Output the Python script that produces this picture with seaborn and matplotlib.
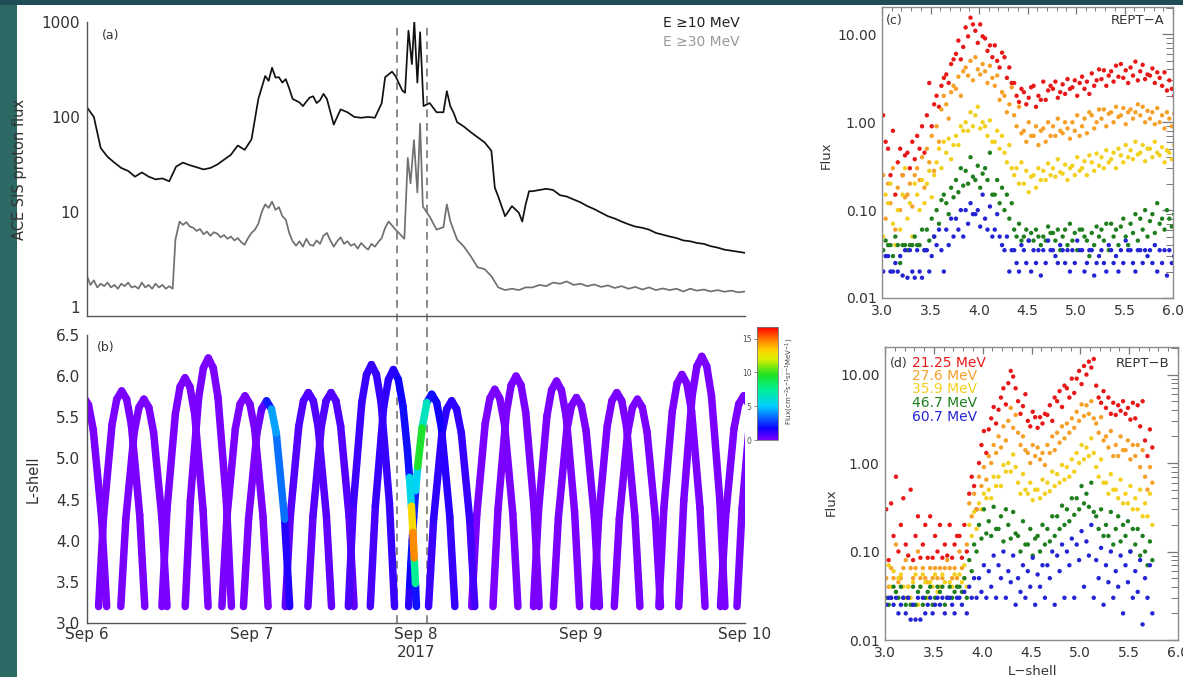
import numpy as np
import pandas as pd
import matplotlib
matplotlib.use("Agg")
import matplotlib.pyplot as plt
import seaborn as sns
from matplotlib.collections import LineCollection
from matplotlib.patches import Rectangle
from matplotlib.colors import Normalize, LinearSegmentedColormap
from matplotlib.cm import ScalarMappable
from matplotlib.ticker import FixedLocator, FixedFormatter, NullFormatter, LogLocator, MultipleLocator

# ---------------- Panel (a): ACE SIS proton flux (hours since Sep 6 00:00) ----------------
HOURS_10 = [0, 1, 2, 3, 4, 5, 6, 7, 8, 9, 10, 11, 12, 13, 14, 15, 16, 17, 18, 19, 20, 21, 22, 23,
            24, 25, 26, 26.5, 27, 27.5, 28, 28.5, 29, 29.5, 30, 31, 31.5, 32, 32.5, 33, 33.5, 34, 34.5, 35, 36,
            36.5, 37, 38, 39, 40, 41, 42, 43, 43.5,
            44.5, 45, 46, 46.4, 46.9, 47.4, 47.75, 48.2, 48.6, 49.1, 50, 51, 52, 52.5, 53, 53.5,
            54, 55, 56, 57, 58, 59, 59.5, 60, 61, 62, 63, 63.5, 64, 64.5, 65, 66, 67, 68, 69, 70,
            71, 72, 73, 74, 75, 76, 77, 78, 79, 80, 81, 82, 83, 84, 85, 86, 87, 88, 89, 90, 91, 92,
            93, 94, 95, 96]
FLUX_10 = [126, 100, 47, 38, 33, 29, 27, 23.5, 26, 23.5, 22, 22.5, 21, 30, 33, 31, 29.5, 28, 29,
           31.5, 35.5, 40, 50, 45, 58, 155, 270, 240, 330, 260, 262, 230, 250, 200, 155, 142, 130, 145,
           160, 165, 140, 150, 175, 155, 83, 100,
           120, 112, 100, 98, 100, 98, 140, 262, 300, 270, 190, 180, 810, 360, 1010, 230, 780, 130,
           140, 112, 112, 187, 130, 110, 88, 79, 69, 61, 54, 44, 18, 14.5, 9.0, 11.5, 9.8, 7.9, 12,
           16.5, 16.5, 17, 17.5, 17, 15, 14.5, 13.5, 12.6, 11.5, 10.7, 9.8, 9.0, 8.5, 7.9, 7.4, 7.0,
           6.8, 6.5, 6.0, 5.75, 5.5, 5.3, 5.0, 4.9, 4.7, 4.6, 4.35, 4.2, 4.0, 3.9, 3.8, 3.7]
HOURS_30 = [0, 0.5, 1, 1.5, 2, 2.5, 3, 3.5, 4, 4.5, 5, 5.5, 6, 6.5, 7, 7.5, 8, 8.5, 9, 9.5, 10, 10.5,
            11, 11.5, 12, 12.5, 12.9, 13.5, 14, 14.5, 15, 15.5, 16, 16.5, 17, 17.5, 18, 18.5, 19,
            19.5, 20, 20.5, 21, 21.5, 22, 22.5, 23, 23.5, 24, 24.5, 25, 25.5, 26, 26.5, 27, 27.5,
            28, 28.5, 29, 29.5, 30, 30.5, 31, 31.5, 32, 32.5, 33, 33.5, 34, 34.5, 35, 35.5, 36,
            36.5, 37, 37.5, 38, 38.5, 39, 39.5, 40, 40.5, 41, 41.5, 42, 42.5, 43, 43.5, 44, 44.5,
            45, 45.5, 46, 46.3, 46.8, 47.2, 47.7, 48.2, 48.6, 49, 50, 51, 52, 52.5, 53, 54, 55, 56,
            57, 58, 59, 60, 61, 62, 63, 64, 65, 66, 67, 68, 69, 70, 71, 72, 73, 74, 75, 76, 77, 78,
            79, 80, 81, 82, 83, 84, 85, 86, 87, 88, 89, 90, 91, 92, 93, 94, 95, 96]
FLUX_30 = [2.1, 1.7, 1.9, 1.6, 1.75, 1.65, 1.8, 1.6, 1.7, 1.55, 1.75, 1.65, 1.8, 1.6, 1.65, 1.55,
           1.8, 1.6, 1.7, 1.55, 1.75, 1.6, 1.7, 1.55, 1.65, 1.55, 5.1, 7.9, 7.3, 7.8, 7.0, 6.8,
           6.3, 6.6, 5.8, 6.2, 5.6, 6.1, 5.9, 5.4, 5.7, 5.2, 5.5, 5.0, 5.3, 4.8, 4.5, 5.3, 6.0,
           6.5, 7.5, 10, 12, 11, 12.8, 10.5, 11.2, 9, 8.3, 6, 4.9, 4.4, 4.9, 4.3, 5.2, 4.5, 4.4,
           5.0, 4.6, 5.6, 6.0, 5.0, 4.3, 4.9, 5.4, 4.6, 4.9, 4.4, 4.6, 4.1, 4.7, 4.3, 4.0, 4.6,
           4.3, 4.8, 5.3, 6.8, 7.9, 7.2, 6.5, 6.0, 5.5, 5.2, 37, 20, 57, 16, 85, 11.4, 8.9, 6.5,
           6.9, 12, 8, 5.1, 4.3, 3.4, 2.6, 2.5, 2.1, 1.6, 1.5, 1.55, 1.5, 1.6, 1.6, 1.7, 1.65,
           1.8, 1.75, 1.85, 1.7, 1.75, 1.65, 1.72, 1.62, 1.68, 1.58, 1.65, 1.55, 1.62, 1.52, 1.6,
           1.5, 1.56, 1.5, 1.55, 1.45, 1.55, 1.48, 1.52, 1.45, 1.5, 1.44, 1.48, 1.42, 1.45]
EVENT_HOURS = [45.2, 49.6]
DAY_TICKS = [0, 24, 48, 72, 96]
DAY_LABELS = ['Sep 6', 'Sep 7', 'Sep 8\n2017', 'Sep 9', 'Sep 10']

# ---------------- Panel (b): Van Allen Probes L-shell passes (hours, L, flux) ----------------
ORBIT_A_HOURS = [
    [-3.87, -3.13, -1.91, -1.22, -0.5, 0.22, 0.91, 2.13, 2.87],
    [4.93, 5.67, 6.89, 7.58, 8.3, 9.02, 9.71, 10.93, 11.67],
    [14.33, 15.07, 16.29, 16.98, 17.7, 18.42, 19.11, 20.33, 21.07],
    [22.83, 23.57, 24.79, 25.48, 26.2, 26.92, 27.61, 28.83, 29.57],
    [32.23, 32.97, 34.19, 34.88, 35.6, 36.32, 37.01, 38.23, 38.97],
    [41.33, 42.07, 43.29, 43.98, 44.7, 45.42, 46.11, 46.75, 47.05, 47.33, 47.55, 47.74, 47.92, 48.07],
    [49.83, 50.57, 51.79, 52.48, 53.2, 53.92, 54.61, 55.83, 56.57],
    [59.23, 59.97, 61.19, 61.88, 62.6, 63.32, 64.01, 65.23, 65.97],
    [68.03, 68.77, 69.99, 70.68, 71.4, 72.12, 72.81, 74.03, 74.77],
    [76.93, 77.67, 78.89, 79.58, 80.3, 81.02, 81.71, 82.93, 83.67],
    [86.33, 87.07, 88.29, 88.98, 89.7, 90.42, 91.11, 92.33, 93.07],
    [94.83, 95.57, 96.79, 97.48, 98.2],
]
ORBIT_A_LSHELL = [
    [3.2, 4.28, 5.35, 5.65, 5.75, 5.65, 5.35, 4.28, 3.2],
    [3.2, 4.27, 5.32, 5.62, 5.72, 5.62, 5.32, 4.27, 3.2],
    [3.2, 4.48, 5.74, 6.10, 6.22, 6.10, 5.74, 4.48, 3.2],
    [3.2, 4.26, 5.31, 5.60, 5.70, 5.60, 5.31, 4.26, 3.2],
    [3.2, 4.30, 5.39, 5.70, 5.80, 5.70, 5.39, 4.30, 3.2],
    [3.2, 4.42, 5.63, 5.96, 6.08, 5.96, 5.63, 5.10, 4.77, 4.42, 4.10, 3.79, 3.48, 3.2],
    [3.2, 4.26, 5.31, 5.60, 5.70, 5.60, 5.31, 4.26, 3.2],
    [3.2, 4.39, 5.56, 5.89, 6.00, 5.89, 5.56, 4.39, 3.2],
    [3.2, 4.28, 5.34, 5.64, 5.74, 5.64, 5.34, 4.28, 3.2],
    [3.2, 4.27, 5.32, 5.62, 5.72, 5.62, 5.32, 4.27, 3.2],
    [3.2, 4.49, 5.76, 6.12, 6.24, 6.12, 5.76, 4.49, 3.2],
    [3.2, 4.39, 5.56, 5.89, 6.0],
]
ORBIT_A_FLUX = [
    [0, 0, 0, 0, 0, 0, 0, 0, 0],
    [0, 0, 0, 0, 0, 0, 0, 0, 0],
    [0, 0, 0, 0, 0, 0, 0, 0, 0],
    [0, 0, 0, 0.3, 0.8, 3.5, 5, 2, 0.8],
    [0.3, 0.6, 0.7, 0.7, 0.7, 0.7, 0.7, 0.6, 0.3],
    [0.6, 1.0, 1.2, 1.2, 1.3, 1.5, 2, 1.8, 2, 9, 17, 12, 3, 1],
    [0.8, 1.2, 1.2, 1.2, 1.2, 1.2, 1.1, 1.0, 0.8],
    [0, 0, 0, 0, 0, 0, 0, 0, 0],
    [0, 0, 0, 0, 0, 0, 0, 0, 0],
    [0, 0, 0, 0, 0, 0, 0, 0, 0],
    [0, 0, 0, 0, 0, 0, 0, 0, 0],
    [0, 0, 0, 0, 0],
]
ORBIT_B_HOURS = [
    [1.69, 2.43, 3.65, 4.34, 5.06, 5.78, 6.47, 7.69, 8.43],
    [10.93, 11.67, 12.89, 13.58, 14.3, 15.02, 15.71, 16.93, 17.67],
    [19.68, 20.42, 21.64, 22.33, 23.05, 23.77, 24.46, 25.68, 26.42],
    [28.93, 29.67, 30.89, 31.58, 32.3, 33.02, 33.71, 34.93, 35.67],
    [38.13, 38.87, 40.09, 40.78, 41.5, 42.22, 42.91, 44.13, 44.87],
    [46.93, 47.08, 47.26, 47.45, 47.67, 47.95, 48.25, 48.89, 49.58, 50.3, 51.02, 51.71, 52.93, 53.67],
    [56.13, 56.87, 58.09, 58.78, 59.5, 60.22, 60.91, 62.13, 62.87],
    [65.13, 65.87, 67.09, 67.78, 68.5, 69.22, 69.91, 71.13, 71.87],
    [73.93, 74.67, 75.89, 76.58, 77.3, 78.02, 78.71, 79.93, 80.67],
    [83.43, 84.17, 85.39, 86.08, 86.8, 87.52, 88.21, 89.43, 90.17],
    [92.43, 93.17, 94.39, 95.08, 95.8, 96.52],
]
ORBIT_B_LSHELL = [
    [3.2, 4.31, 5.41, 5.72, 5.82, 5.72, 5.41, 4.31, 3.2],
    [3.2, 4.38, 5.54, 5.87, 5.98, 5.87, 5.54, 4.38, 3.2],
    [3.2, 4.29, 5.36, 5.66, 5.76, 5.66, 5.36, 4.29, 3.2],
    [3.2, 4.30, 5.39, 5.70, 5.80, 5.70, 5.39, 4.30, 3.2],
    [3.2, 4.45, 5.68, 6.02, 6.14, 6.02, 5.68, 4.45, 3.2],
    [3.2, 3.45, 3.73, 4.0, 4.29, 4.61, 4.90, 5.37, 5.68, 5.78, 5.68, 5.37, 4.29, 3.2],
    [3.2, 4.32, 5.42, 5.73, 5.84, 5.73, 5.42, 4.32, 3.2],
    [3.2, 4.36, 5.51, 5.83, 5.94, 5.83, 5.51, 4.36, 3.2],
    [3.2, 4.30, 5.39, 5.70, 5.80, 5.70, 5.39, 4.30, 3.2],
    [3.2, 4.40, 5.57, 5.91, 6.02, 5.91, 5.57, 4.40, 3.2],
    [3.2, 4.29, 5.36, 5.66, 5.76, 5.66],
]
ORBIT_B_FLUX = [
    [0, 0, 0, 0, 0, 0, 0, 0, 0],
    [0, 0, 0, 0, 0, 0, 0, 0, 0],
    [0, 0, 0, 0, 0, 0, 0, 0, 0],
    [0.3, 0.6, 0.7, 0.7, 0.7, 0.7, 0.7, 0.6, 0.3],
    [0.6, 0.9, 1.1, 1.1, 1.1, 1.1, 1.1, 1.1, 1.0],
    [1, 1.5, 2, 2, 2, 2.5, 8, 11, 2, 1.8, 1.8, 1.5, 1.2, 1],
    [0, 0, 0, 0, 0, 0, 0, 0, 0],
    [0, 0, 0, 0, 0, 0, 0, 0, 0],
    [0, 0, 0, 0, 0, 0, 0, 0, 0],
    [0, 0, 0, 0, 0, 0, 0, 0, 0],
    [0, 0, 0, 0, 0, 0],
]
CBAR_MAX = 16.7
CBAR_TICKS = [0, 5, 10, 15]
CMAP_STOPS = [0.0, 0.1, 0.3, 0.45, 0.58, 0.72, 0.8, 0.9, 1.0]
CMAP_COLORS = ['#7a00ff', '#1000ff', '#00d0ff', '#00f090', '#20e020', '#e0f000', '#ffd000', '#ff7000', '#ff0000']

# ---------------- Panels (c) and (d): REPT flux vs L-shell ----------------
CHANNELS = ['21.25 MeV', '27.6 MeV', '35.9 MeV', '46.7 MeV', '60.7 MeV']
CH_COLORS = ['#e81818', '#f5a028', '#f3d01e', '#1f7f1f', '#2424d4']
L_BINS_C = [3.0, 3.1, 3.2, 3.3, 3.4, 3.5, 3.6, 3.7, 3.8, 3.9, 4.0, 4.1, 4.2, 4.3, 4.4, 4.5,
            4.6, 4.7, 4.8, 4.9, 5.0, 5.1, 5.2, 5.3, 5.4, 5.5, 5.6, 5.7, 5.8, 5.9, 6.0]
L_BINS_D = [3.0, 3.1, 3.2, 3.3, 3.4, 3.5, 3.6, 3.7, 3.8, 3.9, 4.0, 4.1, 4.2, 4.3, 4.4, 4.5,
            4.6, 4.7, 4.8, 4.9, 5.0, 5.1, 5.2, 5.3, 5.4, 5.5, 5.6, 5.7]
C_RED = [[0.9, 0.35, 1.2, 0.6], [0.5, 0.25, 0.8, 0.15], [0.35, 0.5, 0.25, 0.42], [0.45, 0.3, 0.6, 0.38],
         [0.7, 0.5, 0.9, 0.45], [1.2, 2.8, 0.9, 1.6], [2.0, 1.5, 2.6, 3.2], [3.5, 2.8, 4.6, 5.2],
         [6.0, 8.5, 5.2, 7.2], [12.0, 9.5, 15.5, 13.0], [11.0, 8.0, 13.0, 9.5], [9.0, 6.5, 7.5, 5.5],
         [7.5, 5.0, 4.2, 6.2], [5.5, 3.2, 4.2, 2.8], [2.8, 2.0, 1.7, 2.4], [2.2, 1.6, 1.9, 2.5],
         [2.6, 1.5, 2.0, 1.8], [2.9, 1.8, 2.3, 2.6], [2.4, 2.9, 1.9, 2.2], [2.7, 2.1, 3.1, 2.4],
         [2.5, 3.0, 2.0, 2.8], [3.3, 2.4, 2.9, 2.1], [3.6, 2.6, 3.0, 4.0], [3.1, 3.9, 2.6, 3.4],
         [3.8, 2.9, 4.4, 3.3], [4.6, 3.2, 3.9, 2.8], [4.2, 3.4, 4.9, 3.0], [3.8, 4.5, 3.1, 3.5],
         [3.4, 4.1, 2.8, 3.7], [3.2, 2.6, 3.7, 2.3], [3.0, 2.4, 2.0, 3.4]]
C_ORANGE = [[0.35, 0.15, 0.25, 0.08], [0.2, 0.12, 0.3, 0.06], [0.18, 0.1, 0.25, 0.14], [0.15, 0.2, 0.11, 0.25],
            [0.3, 0.22, 0.4, 0.18], [0.5, 0.35, 0.7, 0.28], [0.9, 0.6, 1.4, 2.0], [1.6, 1.1, 2.2, 2.6],
            [2.4, 3.3, 2.0, 3.8], [4.2, 3.4, 5.0, 3.0], [5.5, 4.0, 3.5, 4.6], [3.8, 2.8, 4.4, 3.2],
            [2.6, 3.4, 1.8, 2.2], [2.0, 1.3, 1.6, 2.5], [1.2, 0.9, 1.5, 0.75], [0.8, 0.6, 1.0, 0.7],
            [0.7, 0.9, 0.55, 0.8], [0.85, 0.6, 1.0, 0.7], [0.9, 0.7, 1.1, 0.8], [0.75, 1.0, 0.85, 0.65],
            [1.0, 0.8, 1.2, 0.7], [0.9, 1.1, 0.75, 1.3], [1.2, 0.85, 1.0, 1.4], [1.1, 1.4, 0.9, 1.25],
            [1.3, 1.0, 1.5, 1.15], [1.2, 1.45, 0.95, 1.3], [1.4, 1.1, 1.3, 1.6], [1.2, 1.5, 1.0, 1.35],
            [1.1, 1.3, 0.95, 1.45], [1.0, 1.2, 0.85, 1.3], [1.1, 0.9, 1.25, 1.0]]
C_YELLOW = [[0.25, 0.1, 0.05, 0.15], [0.12, 0.2, 0.07, 0.04], [0.1, 0.06, 0.15, 0.3], [0.08, 0.12, 0.05, 0.2],
            [0.15, 0.1, 0.22, 0.12], [0.2, 0.28, 0.14, 0.25], [0.35, 0.5, 0.3, 0.6], [0.45, 0.65, 0.38, 0.55],
            [0.7, 0.55, 0.9, 0.8], [1.0, 0.8, 1.3, 0.9], [1.2, 1.5, 0.85, 1.0], [0.9, 0.7, 1.05, 0.6],
            [0.6, 0.8, 0.5, 0.7], [0.45, 0.35, 0.55, 0.3], [0.25, 0.3, 0.2, 0.35], [0.2, 0.28, 0.16, 0.24],
            [0.25, 0.18, 0.3, 0.22], [0.28, 0.22, 0.34, 0.25], [0.3, 0.24, 0.38, 0.27], [0.26, 0.33, 0.22, 0.3],
            [0.32, 0.25, 0.4, 0.28], [0.3, 0.36, 0.25, 0.42], [0.35, 0.28, 0.44, 0.32], [0.4, 0.3, 0.48, 0.35],
            [0.38, 0.45, 0.3, 0.5], [0.42, 0.35, 0.55, 0.4], [0.48, 0.38, 0.6, 0.43], [0.45, 0.55, 0.36, 0.5],
            [0.5, 0.4, 0.6, 0.45], [0.42, 0.52, 0.35, 0.48], [0.45, 0.38, 0.55, 0.4]]
C_GREEN = [[0.04, 0.04, 0.035, 0.045], [0.04, 0.04, 0.03, 0.05], [0.04, 0.025, 0.04, 0.04], [0.035, 0.04, 0.04, 0.05],
           [0.04, 0.04, 0.06, 0.035], [0.06, 0.045, 0.08, 0.05], [0.1, 0.07, 0.13, 0.15], [0.12, 0.09, 0.18, 0.14],
           [0.22, 0.16, 0.3, 0.19], [0.28, 0.2, 0.4, 0.24], [0.22, 0.32, 0.18, 0.26], [0.3, 0.22, 0.45, 0.15],
           [0.15, 0.22, 0.12, 0.18], [0.1, 0.15, 0.08, 0.12], [0.06, 0.05, 0.07, 0.045], [0.05, 0.06, 0.045, 0.055],
           [0.045, 0.06, 0.05, 0.04], [0.05, 0.045, 0.065, 0.055], [0.055, 0.045, 0.06, 0.035], [0.05, 0.06, 0.04, 0.07],
           [0.045, 0.055, 0.035, 0.06], [0.06, 0.05, 0.045, 0.03], [0.055, 0.04, 0.065, 0.05], [0.06, 0.045, 0.07, 0.035],
           [0.07, 0.05, 0.06, 0.04], [0.065, 0.08, 0.05, 0.04], [0.07, 0.055, 0.09, 0.045], [0.08, 0.06, 0.1, 0.05],
           [0.075, 0.09, 0.055, 0.12], [0.07, 0.08, 0.06, 0.1], [0.08, 0.065, 0.09, 0.07]]
C_BLUE = [[0.03, 0.025, 0.02, 0.03], [0.03, 0.02, 0.02, 0.025], [0.02, 0.03, 0.018, 0.035], [0.017, 0.035, 0.02, 0.017],
          [0.035, 0.02, 0.017, 0.035], [0.035, 0.02, 0.03, 0.05], [0.04, 0.06, 0.035, 0.02], [0.06, 0.04, 0.08, 0.05],
          [0.08, 0.06, 0.1, 0.05], [0.1, 0.07, 0.12, 0.09], [0.09, 0.1, 0.065, 0.15], [0.08, 0.06, 0.11, 0.05],
          [0.06, 0.09, 0.05, 0.04], [0.035, 0.05, 0.02, 0.035], [0.035, 0.025, 0.02, 0.04], [0.035, 0.025, 0.045, 0.02],
          [0.035, 0.025, 0.035, 0.018], [0.035, 0.025, 0.045, 0.035], [0.035, 0.03, 0.025, 0.04], [0.035, 0.025, 0.035, 0.02],
          [0.035, 0.025, 0.045, 0.035], [0.035, 0.02, 0.025, 0.035], [0.035, 0.018, 0.025, 0.03], [0.035, 0.025, 0.02, 0.04],
          [0.035, 0.025, 0.03, 0.02], [0.035, 0.025, 0.045, 0.035], [0.035, 0.025, 0.02, 0.035], [0.035, 0.025, 0.035, 0.03],
          [0.035, 0.025, 0.04, 0.02], [0.035, 0.025, 0.035, 0.018], [0.035, 0.025, 0.03, 0.035]]
D_RED = [[0.5, 0.12, 0.3, 0.08], [0.35, 0.15, 0.7, 0.1], [0.2, 0.4, 0.12, 0.09], [0.5, 0.08, 0.15, 0.25],
         [0.085, 0.12, 0.2, 0.085], [0.25, 0.085, 0.15, 0.1], [0.2, 0.085, 0.12, 0.09], [0.2, 0.085, 0.12, 0.15],
         [0.15, 0.085, 0.2, 0.1], [0.45, 0.7, 0.55, 0.3], [1.0, 1.6, 2.3, 1.3], [2.4, 3.2, 4.3, 2.8],
         [4.0, 5.5, 7.0, 4.6], [8.0, 11.0, 9.5, 7.0], [5.0, 3.6, 4.4, 6.0], [3.0, 2.6, 3.8, 3.3],
         [2.5, 3.3, 2.8, 3.6], [3.5, 4.5, 3.0, 5.5], [5.0, 6.5, 4.3, 7.5], [7.0, 5.5, 9.0, 6.2],
         [9.0, 11.0, 7.8, 12.5], [10.0, 14.0, 12.0, 15.0], [7.5, 5.5, 4.8, 6.5], [4.2, 5.5, 3.6, 4.8],
         [3.5, 4.5, 3.9, 5.0], [3.6, 4.2, 3.1, 4.8], [3.2, 4.5, 2.6, 5.0], [1.8, 1.2, 2.4, 1.5]]
D_ORANGE = [[0.1, 0.065, 0.05, 0.04], [0.065, 0.05, 0.12, 0.045], [0.05, 0.065, 0.08, 0.04], [0.065, 0.05, 0.065, 0.1],
            [0.05, 0.065, 0.05, 0.045], [0.065, 0.05, 0.065, 0.05], [0.065, 0.05, 0.065, 0.08], [0.065, 0.05, 0.065, 0.05],
            [0.1, 0.065, 0.05, 0.12], [0.35, 0.25, 0.45, 0.3], [0.7, 0.55, 0.9, 0.65], [1.2, 1.0, 1.6, 1.3],
            [2.0, 1.5, 2.6, 1.8], [3.0, 4.2, 2.5, 3.5], [2.2, 1.6, 2.0, 1.4], [1.3, 1.0, 1.6, 1.2],
            [1.5, 1.1, 1.3, 0.95], [1.6, 1.3, 2.0, 1.4], [2.2, 1.7, 2.6, 1.9], [2.8, 2.2, 3.2, 2.5],
            [3.8, 3.0, 4.6, 3.4], [4.5, 3.6, 5.0, 3.2], [2.8, 2.2, 3.3, 1.8], [2.0, 1.5, 2.3, 1.2],
            [1.6, 1.2, 2.0, 1.4], [1.4, 1.8, 1.1, 1.6], [1.2, 1.6, 0.9, 1.4], [0.7, 0.5, 0.9, 0.6]]
D_YELLOW = [[0.04, 0.055, 0.03, 0.07], [0.04, 0.06, 0.035, 0.05], [0.055, 0.04, 0.03, 0.04], [0.03, 0.045, 0.055, 0.025],
            [0.04, 0.055, 0.045, 0.03], [0.045, 0.04, 0.055, 0.035], [0.04, 0.055, 0.045, 0.03], [0.045, 0.04, 0.055, 0.04],
            [0.055, 0.045, 0.07, 0.04], [0.2, 0.15, 0.28, 0.18], [0.35, 0.3, 0.45, 0.4], [0.5, 0.4, 0.7, 0.55],
            [0.7, 0.55, 0.95, 0.8], [1.0, 0.8, 1.25, 0.9], [0.6, 0.45, 0.75, 0.5], [0.45, 0.6, 0.38, 0.5],
            [0.5, 0.4, 0.65, 0.45], [0.6, 0.48, 0.8, 0.55], [0.75, 0.6, 0.95, 0.65], [0.9, 0.7, 1.1, 0.8],
            [1.3, 1.0, 1.6, 1.1], [1.5, 1.2, 1.9, 1.3], [0.9, 0.7, 1.1, 0.6], [0.6, 0.45, 0.75, 0.5],
            [0.5, 0.4, 0.65, 0.35], [0.45, 0.35, 0.55, 0.3], [0.4, 0.3, 0.5, 0.25], [0.35, 0.25, 0.45, 0.2]]
D_GREEN = [[0.03, 0.04, 0.03, 0.025], [0.03, 0.04, 0.035, 0.03], [0.04, 0.03, 0.025, 0.03], [0.025, 0.04, 0.025, 0.035],
           [0.04, 0.025, 0.03, 0.035], [0.04, 0.025, 0.03, 0.04], [0.035, 0.04, 0.025, 0.03], [0.04, 0.03, 0.035, 0.04],
           [0.04, 0.035, 0.05, 0.03], [0.08, 0.06, 0.12, 0.1], [0.2, 0.14, 0.3, 0.16], [0.22, 0.15, 0.32, 0.18],
           [0.18, 0.25, 0.13, 0.3], [0.2, 0.14, 0.28, 0.16], [0.15, 0.1, 0.22, 0.12], [0.12, 0.18, 0.09, 0.14],
           [0.15, 0.1, 0.2, 0.12], [0.18, 0.13, 0.25, 0.15], [0.25, 0.18, 0.33, 0.2], [0.3, 0.22, 0.4, 0.26],
           [0.4, 0.3, 0.55, 0.35], [0.45, 0.32, 0.6, 0.28], [0.25, 0.18, 0.3, 0.15], [0.2, 0.15, 0.28, 0.12],
           [0.18, 0.25, 0.13, 0.2], [0.15, 0.22, 0.1, 0.18], [0.12, 0.18, 0.09, 0.15], [0.1, 0.07, 0.13, 0.08]]
D_BLUE = [[0.025, 0.03, 0.025, 0.03], [0.03, 0.025, 0.03, 0.02], [0.025, 0.03, 0.02, 0.03], [0.017, 0.025, 0.017, 0.03],
          [0.017, 0.03, 0.02, 0.025], [0.03, 0.02, 0.025, 0.03], [0.025, 0.03, 0.02, 0.03], [0.03, 0.025, 0.02, 0.03],
          [0.03, 0.025, 0.035, 0.02], [0.04, 0.03, 0.05, 0.03], [0.05, 0.035, 0.07, 0.03], [0.06, 0.04, 0.09, 0.03],
          [0.07, 0.05, 0.1, 0.03], [0.06, 0.045, 0.09, 0.025], [0.05, 0.035, 0.07, 0.03], [0.06, 0.04, 0.085, 0.025],
          [0.055, 0.04, 0.07, 0.03], [0.07, 0.05, 0.1, 0.025], [0.09, 0.06, 0.12, 0.03], [0.1, 0.07, 0.14, 0.03],
          [0.12, 0.08, 0.17, 0.04], [0.13, 0.09, 0.2, 0.03], [0.08, 0.05, 0.11, 0.025], [0.07, 0.045, 0.1, 0.03],
          [0.06, 0.04, 0.09, 0.02], [0.07, 0.045, 0.1, 0.03], [0.06, 0.035, 0.08, 0.015], [0.05, 0.03, 0.07, 0.02]]
BIN_OFFSETS = [-0.0375, -0.0125, 0.0125, 0.0375]

# ---------------- styling ----------------
sns.set_theme(style="white")
plt.rcParams['font.family'] = ['DejaVu Sans']
plt.rcParams['axes.linewidth'] = 1.0
TXT = '#333333'
SPINE = '#555555'

W, H = 1183, 677
fig = plt.figure(figsize=(W / 100, H / 100), dpi=100)
fig.patch.set_facecolor('#2c6864')
fig.add_artist(Rectangle((0, 1 - 5 / H), 1, 5 / H, transform=fig.transFigure,
                         facecolor='#1f4d56', edgecolor='none', zorder=-10))
fig.add_artist(Rectangle((17 / W, 0), 1 - 17 / W, 1 - 5 / H, transform=fig.transFigure,
                         facecolor='white', edgecolor='none', zorder=-9))


def fax(l, t, r, b):
    return fig.add_axes([l / W, 1 - b / H, (r - l) / W, (b - t) / H])


axa = fax(87, 22, 745, 316)
axb = fax(87, 335, 745, 623)
cax = fax(757, 327, 778, 440)
axc = fax(882, 7, 1173, 298)
axd = fax(885, 347, 1178, 640)
for ax in (axa, axb, axc, axd):
    ax.set_facecolor('none')

# ---- panel (a)
df_a = pd.DataFrame({
    'hour': HOURS_10 + HOURS_30,
    'flux': FLUX_10 + FLUX_30,
    'series': ['E ≥10 MeV'] * len(HOURS_10) + ['E ≥30 MeV'] * len(HOURS_30),
})
sns.lineplot(data=df_a, x='hour', y='flux', hue='series', estimator=None,
             palette={'E ≥10 MeV': '#111111', 'E ≥30 MeV': '#707070'},
             linewidth=1.25, legend=False, ax=axa)
axa.set_yscale('log')
axa.set_ylim(0.8, 1000)
axa.set_xlim(0, 96)
axa.yaxis.set_major_locator(FixedLocator([1, 10, 100, 1000]))
axa.yaxis.set_major_formatter(FixedFormatter(['1', '10', '100', '1000']))
axa.yaxis.set_minor_locator(LogLocator(base=10, subs=[2, 3, 4, 5, 6, 7, 8, 9]))
axa.yaxis.set_minor_formatter(NullFormatter())
axa.set_ylabel('ACE SIS proton flux', fontsize=10.5, color=TXT)
axa.yaxis.set_label_coords(-0.091, 0.5)
axa.set_xlabel('')

cmap_b = LinearSegmentedColormap.from_list('idl_rainbow', list(zip(CMAP_STOPS, CMAP_COLORS)))
norm = Normalize(0, CBAR_MAX)

for ax in (axa, axb):
    for s in ('top', 'right'):
        ax.spines[s].set_visible(False)
    for s in ('left', 'bottom'):
        ax.spines[s].set_color(SPINE)
        ax.spines[s].set_linewidth(1.0)
    ax.xaxis.set_major_locator(FixedLocator(DAY_TICKS))
    ax.xaxis.set_minor_locator(MultipleLocator(2.4))
    ax.tick_params(axis='both', which='both', direction='in', colors=SPINE, labelcolor=TXT,
                   labelsize=11, top=False, right=False)
    ax.tick_params(axis='y', which='major', length=14, width=1, pad=5)
    ax.tick_params(axis='y', which='minor', length=6.5, width=0.8)
    ax.tick_params(axis='x', which='major', length=9, width=1)
    ax.tick_params(axis='x', which='minor', length=5, width=0.8)
axa.set_xticklabels([])

for hx in EVENT_HOURS:
    axa.axvline(hx, ymin=-19 / 294, ymax=1, color='#8a8a8a', ls=(0, (4, 3)), lw=1.4, clip_on=False, zorder=1)
    axb.axvline(hx, color='#8a8a8a', ls=(0, (4, 3)), lw=1.4, zorder=1)

axa.text(0.023, 0.955, '(a)', transform=axa.transAxes, fontsize=9, color=TXT, va='center', ha='left')
axa.text(0.992, 0.997, 'E ≥10 MeV', transform=axa.transAxes, fontsize=10, color='#222222', va='center', ha='right')
axa.text(0.992, 0.932, 'E ≥30 MeV', transform=axa.transAxes, fontsize=10, color='#9a9a9a', va='center', ha='right')

# ---- panel (b)
segs, vals = [], []
for hrs_list, l_list, f_list in ((ORBIT_A_HOURS, ORBIT_A_LSHELL, ORBIT_A_FLUX),
                                 (ORBIT_B_HOURS, ORBIT_B_LSHELL, ORBIT_B_FLUX)):
    for hrs, ls, fx in zip(hrs_list, l_list, f_list):
        for i in range(len(hrs) - 1):
            segs.append([(hrs[i], ls[i]), (hrs[i + 1], ls[i + 1])])
            vals.append(0.5 * (fx[i] + fx[i + 1]))
order = np.argsort(vals, kind='stable')
lc = LineCollection([segs[i] for i in order], cmap=cmap_b, norm=norm, linewidths=5.4,
                    capstyle='round', joinstyle='round', zorder=2)
lc.set_array(np.array(vals)[order])
axb.add_collection(lc)
axb.set_xlim(0, 96)
axb.set_ylim(3.0, 6.5)
axb.set_yticks([3.0, 3.5, 4.0, 4.5, 5.0, 5.5, 6.0, 6.5])
axb.set_yticklabels(['3.0', '3.5', '4.0', '4.5', '5.0', '5.5', '6.0', '6.5'])
axb.yaxis.set_minor_locator(MultipleLocator(0.1))
axb.set_xticks(DAY_TICKS)
axb.set_xticklabels(DAY_LABELS)
axb.tick_params(axis='x', which='major', pad=3)
axb.set_ylabel('L-shell', fontsize=10.5, color=TXT)
axb.yaxis.set_label_coords(-0.071, 0.5)
axb.text(0.015, 0.955, '(b)', transform=axb.transAxes, fontsize=9, color=TXT, va='center', ha='left')

sm = ScalarMappable(norm=norm, cmap=cmap_b)
cb = fig.colorbar(sm, cax=cax)
cb.set_ticks(CBAR_TICKS)
cax.yaxis.set_ticks_position('left')
cax.tick_params(labelsize=5.5, length=2, width=0.5, colors='#555555', pad=2)
cb.outline.set_edgecolor('#777777')
cb.outline.set_linewidth(0.6)
cax.text(1.55, 0.52, 'Flux(cm$^{-2}$s$^{-1}$sr$^{-1}$MeV$^{-1}$)', transform=cax.transAxes,
         rotation=90, fontsize=5, color='#444444', va='center', ha='center')


# ---- panels (c) and (d)
def cloud(bins, rows_by_channel):
    recs = []
    for ch, rows in zip(CHANNELS, rows_by_channel):
        for L, row in zip(bins, rows):
            for off, v in zip(BIN_OFFSETS, row):
                recs.append((L + off, v, ch))
    return pd.DataFrame(recs, columns=['L', 'flux', 'channel'])


df_c = cloud(L_BINS_C, [C_RED, C_ORANGE, C_YELLOW, C_GREEN, C_BLUE])
df_d = cloud(L_BINS_D, [D_RED, D_ORANGE, D_YELLOW, D_GREEN, D_BLUE])
pal = dict(zip(CHANNELS, CH_COLORS))

for ax, df, tag, name in ((axc, df_c, '(c)', 'REPT−A'), (axd, df_d, '(d)', 'REPT−B')):
    sns.scatterplot(data=df, x='L', y='flux', hue='channel', palette=pal, s=10, linewidth=0,
                    legend=False, ax=ax, zorder=2)
    ax.set_yscale('log')
    ax.set_ylim(0.01, 20.5)
    ax.set_xlim(3.0, 6.0)
    ax.yaxis.set_major_locator(FixedLocator([0.01, 0.1, 1, 10]))
    ax.yaxis.set_major_formatter(FixedFormatter(['0.01', '0.10', '1.00', '10.00']))
    ax.yaxis.set_minor_locator(LogLocator(base=10, subs=[2, 3, 4, 5, 6, 7, 8, 9]))
    ax.yaxis.set_minor_formatter(NullFormatter())
    ax.xaxis.set_major_locator(FixedLocator([3.0, 3.5, 4.0, 4.5, 5.0, 5.5, 6.0]))
    ax.xaxis.set_major_formatter(FixedFormatter(['3.0', '3.5', '4.0', '4.5', '5.0', '5.5', '6.0']))
    ax.xaxis.set_minor_locator(MultipleLocator(0.1))
    for s in ax.spines.values():
        s.set_visible(True)
        s.set_color('#8c8c8c')
        s.set_linewidth(1.0)
    ax.tick_params(axis='both', which='both', direction='in', top=True, right=True,
                   colors='#777777', labelcolor=TXT, labelsize=10)
    ax.tick_params(axis='y', which='major', length=8, width=0.9, pad=4)
    ax.tick_params(axis='y', which='minor', length=5, width=0.7)
    ax.tick_params(axis='x', which='major', length=5, width=0.9, pad=4)
    ax.tick_params(axis='x', which='minor', length=3, width=0.7)
    ax.set_ylabel('Flux', fontsize=9.5, color=TXT)
    ax.set_xlabel('')
    ax.text(0.015, 0.955 if tag == '(c)' else 0.945, tag, transform=ax.transAxes, fontsize=9,
            color=TXT, va='center', ha='left')
    ax.text(0.97, 0.955 if tag == '(c)' else 0.945, name, transform=ax.transAxes, fontsize=9.5,
            color=TXT, va='center', ha='right')

axc.yaxis.set_label_coords(-0.168, 0.49)
axd.yaxis.set_label_coords(-0.16, 0.47)
axd.set_xlabel('L−shell', fontsize=9.5, color=TXT)
axd.xaxis.set_label_coords(0.505, -0.085)

legend_y = [0.945, 0.901, 0.857, 0.809, 0.761]
for ch, col, yy in zip(CHANNELS, CH_COLORS, legend_y):
    axd.text(0.092, yy, ch, transform=axd.transAxes, fontsize=10, color=col, va='center', ha='left')

fig.savefig('out.png', dpi=100, facecolor=fig.get_facecolor())
